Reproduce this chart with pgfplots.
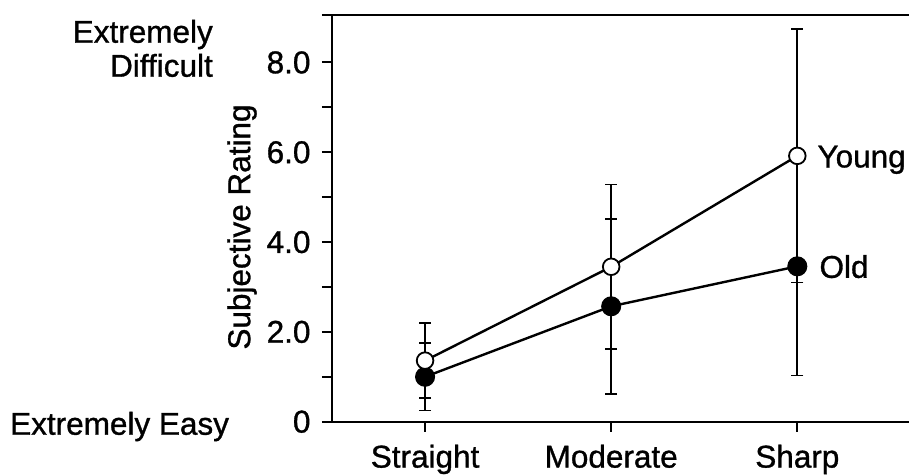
\documentclass[border=0pt]{standalone}
\usepackage{pgfplots}
\pgfplotsset{compat=1.18}
\usepackage{fontspec}
\setmainfont{Liberation Sans}[FakeBold=1.0]

% Mean subjective ratings with error bars (x = curve type)
\pgfplotstableread{
x  y     err
0  1.00  0.75
1  2.57  1.95
2  3.46  2.43
}\olddata
\pgfplotstableread{
x  y     err
0  1.36  0.83
1  3.45  1.83
2  5.92  2.82
}\youngdata

\newcommand\bigfont{\fontsize{31.5}{34}\selectfont}

\begin{document}
\begin{tikzpicture}[font=\bigfont]
\useasboundingbox (-332pt,-53.3pt) rectangle (577pt,421.7pt);
\begin{axis}[
  at={(0pt,0pt)}, anchor=south west,
  scale only axis,
  width=577pt, height=406.4pt,
  xmin=-0.5, xmax=2.6,
  ymin=0, ymax=9.05,
  axis lines=left,
  axis line style={-, line width=2pt},
  tick align=outside,
  major tick length=10pt,
  minor tick length=10pt,
  every tick/.style={black, line width=2pt},
  xtick={0,1,2},
  xticklabels={Straight,Moderate,Sharp},
  ytick={0,2,4,6,8},
  yticklabels={0,2.0,4.0,6.0,8.0},
  minor ytick={1,3,5,7},
  tick label style={font=\bigfont},
  xticklabel style={yshift=-9.5pt},
  yticklabel style={xshift=-8pt},
  /pgf/number format/assume math mode=true,
  clip=false,
]
% frame line along the top
\draw[line width=2pt] ([xshift=-10pt]rel axis cs:0,1) -- (rel axis cs:1,1);

\addplot[black, line width=2.4pt, mark=*, mark size=9.5pt,
  mark options={fill=black, draw=black, line width=1pt},
  error bars/.cd, y dir=both, y explicit,
  error bar style={line width=1.8pt},
  error mark options={rotate=90, mark size=6pt, line width=1.8pt}]
  table[x=x, y=y, y error=err] {\olddata};

\addplot[black, line width=2.4pt, mark=*, mark size=8.3pt,
  mark options={fill=white, draw=black, line width=1.8pt},
  error bars/.cd, y dir=both, y explicit,
  error bar style={line width=1.8pt},
  error mark options={rotate=90, mark size=6pt, line width=1.8pt}]
  table[x=x, y=y, y error=err] {\youngdata};

\node[anchor=base west, inner sep=0pt, xshift=20pt, yshift=-11.5pt] at (axis cs:2,5.92) {Young};
\node[anchor=base west, inner sep=0pt, xshift=22pt, yshift=-11.5pt] at (axis cs:2,3.46) {Old};
\end{axis}

\node[rotate=90, anchor=center, inner sep=0pt] at (-90pt,194.7pt) {Subjective Rating};
\node[anchor=base east, inner sep=0pt, align=right] at (-119pt,345pt) {Extremely\\Difficult};
\node[anchor=base west, inner sep=0pt] at (-322pt,-13pt) {Extremely Easy};
\end{tikzpicture}
\end{document}
